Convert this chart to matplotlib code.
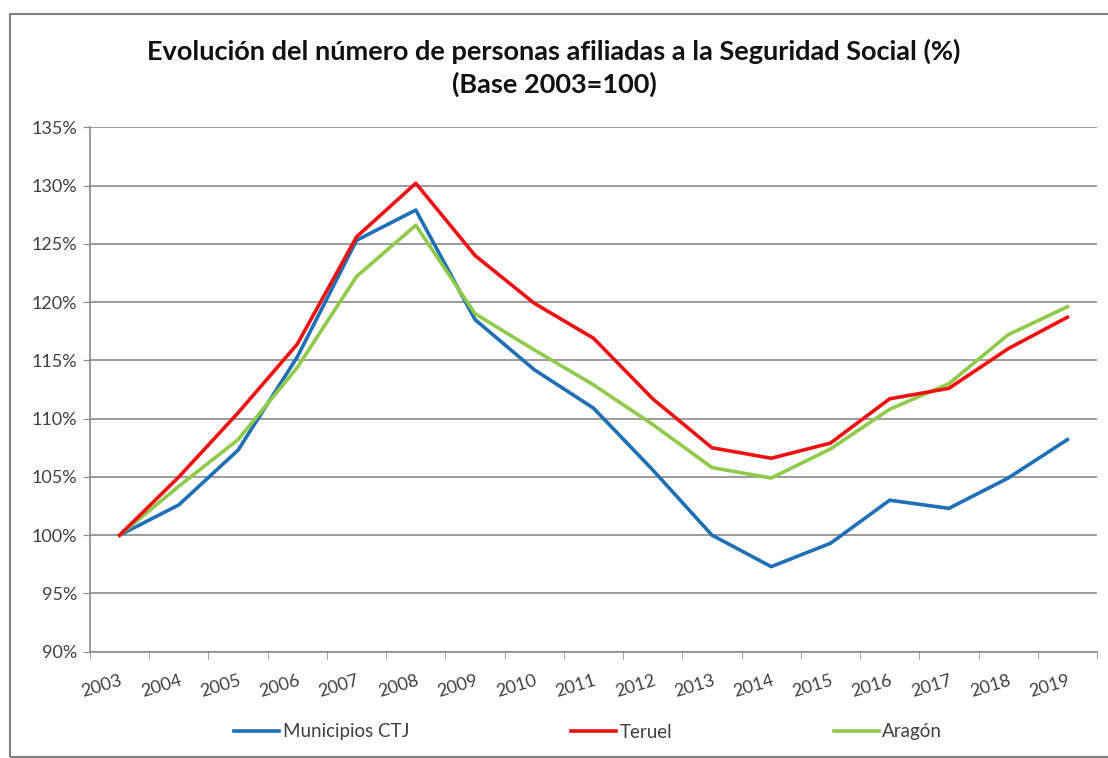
import matplotlib.pyplot as plt
import matplotlib.patches as patches

plt.rcParams['font.family'] = ['Lato', 'DejaVu Sans']

years = ['2003', '2004', '2005', '2006', '2007', '2008', '2009', '2010', '2011',
         '2012', '2013', '2014', '2015', '2016', '2017', '2018', '2019']
municipios_ctj = [100.0, 102.6, 107.3, 115.3, 125.3, 127.9, 118.5, 114.2, 110.9,
                  105.6, 100.0, 97.3, 99.3, 103.0, 102.3, 104.9, 108.2]
teruel = [100.0, 105.0, 110.5, 116.4, 125.6, 130.2, 124.0, 119.9, 116.9,
          111.7, 107.5, 106.6, 107.9, 111.7, 112.6, 116.0, 118.7]
aragon = [100.0, 104.2, 108.2, 114.4, 122.2, 126.6, 119.0, 115.9, 112.9,
          109.5, 105.8, 104.9, 107.4, 110.8, 113.0, 117.2, 119.6]
y_ticks = [90, 95, 100, 105, 110, 115, 120, 125, 130, 135]

grey = '#8a8a8a'
text_col = '#404040'

fig = plt.figure(figsize=(11.08, 7.58), dpi=100)
ax = fig.add_axes([90 / 1108, 1 - 651.7 / 758, (1097 - 90) / 1108, (651.7 - 127.3) / 758])

# chart border (Excel style frame)
fig.patches.append(patches.Rectangle((10 / 1108, 1 / 758), 1.2, 1 - 15 / 758,
                                     transform=fig.transFigure, fill=False,
                                     edgecolor='#7f7f7f', linewidth=1.5))

x = list(range(len(years)))
ax.plot(x, municipios_ctj, color='#1f6fb6', lw=2.6, label='Municipios CTJ', zorder=3)
ax.plot(x, teruel, color='#ee1111', lw=2.6, label='Teruel', zorder=4)
ax.plot(x, aragon, color='#8fca4a', lw=2.6, label='Aragón', zorder=3)

ax.set_xlim(-0.5, len(years) - 0.5)
ax.set_ylim(90, 135)
ax.set_yticks(y_ticks)
ax.set_yticklabels([f'{v}%' for v in y_ticks])
ax.yaxis.grid(True, color=grey, lw=1.2)
ax.set_axisbelow(True)

ax.set_xticks(x)
ax.set_xticklabels(years, rotation=17, ha='right', va='top', rotation_mode='anchor')
ax.set_xticks([i - 0.5 for i in range(len(years) + 1)], minor=True)
ax.tick_params(axis='x', which='major', length=0, pad=15, labelsize=13, labelcolor=text_col)
ax.tick_params(axis='x', which='minor', length=5, color=grey, direction='out')
ax.tick_params(axis='y', length=5, color=grey, pad=4, labelsize=13, labelcolor=text_col)

for side in ['top', 'right']:
    ax.spines[side].set_visible(False)
for side in ['left', 'bottom']:
    ax.spines[side].set_color(grey)
    ax.spines[side].set_linewidth(1.2)

fig.text(0.5, 1 - 68 / 758,
         'Evolución del número de personas afiliadas a la Seguridad Social (%)\n(Base 2003=100)',
         ha='center', va='center', fontsize=19.5, fontweight='bold', color='#111111',
         linespacing=1.35)

fig.legend(loc='center', bbox_to_anchor=(0.531, 1 - 732 / 758), ncol=3, frameon=False,
           fontsize=13.5, handlelength=2.4, handletextpad=0.2, columnspacing=8.6,
           labelcolor=text_col)

fig.savefig('out.png', dpi=100, facecolor='white')
